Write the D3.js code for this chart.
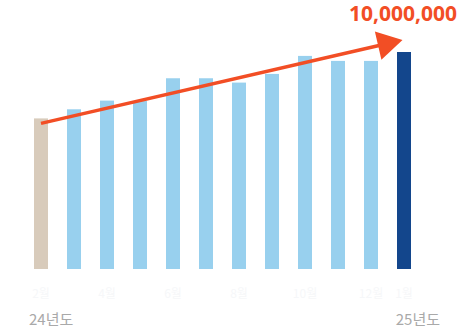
<!DOCTYPE html>
<html><head><meta charset="utf-8">
<script src="https://cdn.jsdelivr.net/npm/d3@7"></script>
<style>html,body{margin:0;padding:0;background:#fff;}svg{display:block;}</style>
</head><body>
<svg id="chart" width="462" height="330"></svg>
<script>
const months = ["2월","3월","4월","5월","6월","7월","8월","9월","10월","11월","12월","1월"];
const values = [6940000, 7360000, 7760000, 7740000, 8790000, 8790000, 8590000, 8990000, 9820000, 9590000, 9590000, 10000000];
const shownMonthLabels = ["2월","4월","6월","8월","10월","12월","1월"];
const yearLabels = ["24년도", "25년도"];
const totalLabel = "10,000,000";

const svg = d3.select("#chart");
const x = d3.scaleBand().domain(months).range([24.5, 420.5]).paddingInner(0.576).paddingOuter(0.288);
const y = d3.scaleLinear().domain([0, 10000000]).range([269, 52]);

const colorFor = (d, i) => i === 0 ? "#d8cbbb" : (i === months.length - 1 ? "#13468c" : "#98d0ee");

svg.append("g").selectAll("rect").data(values).join("rect")
  .attr("x", (d, i) => x(months[i]))
  .attr("y", d => y(d))
  .attr("width", x.bandwidth())
  .attr("height", d => y(0) - y(d))
  .attr("fill", colorFor);

// faint month labels
svg.append("g").selectAll("text").data(shownMonthLabels).join("text")
  .attr("x", d => x(d) + x.bandwidth() / 2)
  .attr("y", 298)
  .attr("text-anchor", "middle")
  .attr("font-family", "'Noto Sans CJK KR', sans-serif")
  .attr("font-size", 12)
  .attr("fill", "#f6f7f9")
  .text(d => d);

// year labels
const cx = i => x(months[i]) + x.bandwidth() / 2;
svg.append("text").attr("x", cx(0) - 12).attr("y", 325)
  .attr("font-family", "'Noto Sans CJK KR', sans-serif").attr("font-size", 15)
  .attr("fill", "#a9a9a9").text(yearLabels[0]);
svg.append("text").attr("x", cx(months.length - 1) + 36).attr("y", 325)
  .attr("text-anchor", "end")
  .attr("font-family", "'Noto Sans CJK KR', sans-serif").attr("font-size", 15)
  .attr("fill", "#a9a9a9").text(yearLabels[1]);

// arrow
const orange = "#f24e25";
const x0 = cx(0), y0 = y(values[0]) + 5;
const x1 = cx(months.length - 1) - 1.5, y1 = y(values[values.length - 1]) - 12;
const dx = x1 - x0, dy = y1 - y0, len = Math.hypot(dx, dy);
const ux = dx / len, uy = dy / len;
const headLen = 25, headHalf = 14.5;
const bx = x1 - ux * headLen, by = y1 - uy * headLen;
svg.append("line")
  .attr("x1", x0).attr("y1", y0)
  .attr("x2", bx + ux * 2).attr("y2", by + uy * 2)
  .attr("stroke", orange).attr("stroke-width", 3.5);
svg.append("path")
  .attr("d", `M${x1},${y1}L${bx - uy * headHalf},${by + ux * headHalf}L${bx + uy * headHalf},${by - ux * headHalf}Z`)
  .attr("fill", orange);

svg.append("text").attr("x", 457).attr("y", 21)
  .attr("text-anchor", "end")
  .attr("font-family", "'Noto Sans', sans-serif").attr("font-weight", "bold")
  .attr("font-size", 21).attr("fill", orange).text(totalLabel);
</script>
</body></html>
